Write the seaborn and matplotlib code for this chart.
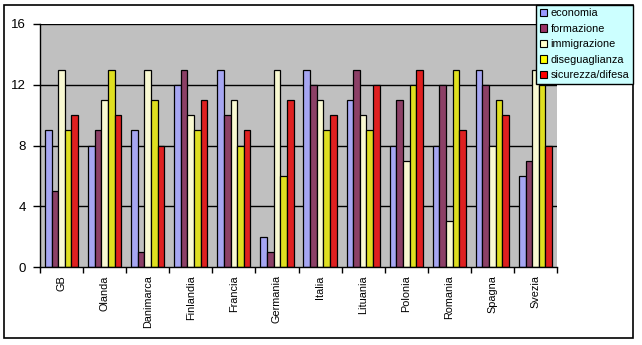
import matplotlib
matplotlib.use("Agg")
import matplotlib.pyplot as plt
import seaborn as sns
import pandas as pd
import numpy as np
from matplotlib.patches import Rectangle, Patch

countries = ["GB", "Olanda", "Danimarca", "Finlandia", "Francia", "Germania",
             "Italia", "Lituania", "Polonia", "Romania", "Spagna", "Svezia"]
series_names = ["economia", "formazione", "immigrazione", "diseguaglianza", "sicurezza/difesa"]
economia       = [9, 8, 9, 12, 13, 2, 13, 11, 8, 8, 13, 6]
formazione     = [5, 9, 1, 13, 10, 1, 12, 13, 11, 12, 12, 7]
immigrazione   = [13, 11, 13, 10, 11, 13, 11, 10, 7, 3, 8, 13]
diseguaglianza = [9, 13, 11, 9, 8, 6, 9, 9, 12, 13, 11, 12]
sicurezza      = [10, 10, 8, 11, 9, 11, 10, 12, 13, 9, 10, 8]
yticks = [0, 4, 8, 12, 16]

colors = ["#9999FF", "#993366", "#FFFFCC", "#FFFF00", "#FF0000"]

rows = []
for name, vals in zip(series_names, [economia, formazione, immigrazione, diseguaglianza, sicurezza]):
    for c, v in zip(countries, vals):
        rows.append({"paese": c, "tema": name, "valore": v})
df = pd.DataFrame(rows)

plt.rcParams['font.family'] = ['Liberation Sans', 'DejaVu Sans']
fig = plt.figure(figsize=(6.42, 3.45), dpi=100)
W, H = 642, 345
ax = fig.add_axes([40 / W, 1 - 267 / H, (557 - 40) / W, (267 - 24) / H])
ax.set_facecolor("#C0C0C0")

sns.barplot(data=df, x="paese", y="valore", hue="tema", order=countries,
            hue_order=series_names, palette=colors, width=0.77,
            edgecolor="black", linewidth=0.9, ax=ax, legend=False, errorbar=None)

ax.set_ylim(0, 16)
ax.set_xlim(-0.5, len(countries) - 0.5)
ax.set_yticks(yticks)
ax.set_yticklabels([str(t) for t in yticks], fontsize=9.5)
ax.grid(False)
for t in yticks[1:]:
    ax.axhline(t, color="black", linewidth=1.0, zorder=0.5)
ax.set_axisbelow(True)
ax.set_xlabel("")
ax.set_ylabel("")
ax.set_xticks(range(len(countries)))
ax.set_xticklabels(countries, rotation=90, fontsize=7.8, va="top")
ax.tick_params(axis="x", which="major", length=0, pad=6)
ax.set_xticks(np.arange(-0.5, len(countries)), minor=True)
ax.tick_params(axis="x", which="minor", length=4, width=1, color="black")
ax.tick_params(axis="y", length=5, width=1, color="black", pad=5)
for s in ["top", "right"]:
    ax.spines[s].set_visible(False)
for s in ["left", "bottom"]:
    ax.spines[s].set_color("black")
    ax.spines[s].set_linewidth(1.0)

# outer chart border
fig.add_artist(Rectangle((4 / W, 7 / H), (633 - 4) / W, (340 - 7) / H,
                         transform=fig.transFigure, fill=False,
                         edgecolor="black", linewidth=1.2))

handles = [Patch(facecolor=c, edgecolor="black", linewidth=0.8) for c in colors]
leg = fig.legend(handles, series_names, loc="upper right",
                 bbox_to_anchor=(633 / W, 1 - 4.7 / H), fontsize=7.8,
                 frameon=True, fancybox=False, framealpha=1,
                 handlelength=0.7, handleheight=0.7, handletextpad=0.3,
                 labelspacing=0.5, borderpad=0.35, borderaxespad=0)
leg.get_frame().set_facecolor("#CCFFFF")
leg.get_frame().set_edgecolor("black")
leg.get_frame().set_linewidth(1.0)

fig.savefig("out.png", dpi=100)
